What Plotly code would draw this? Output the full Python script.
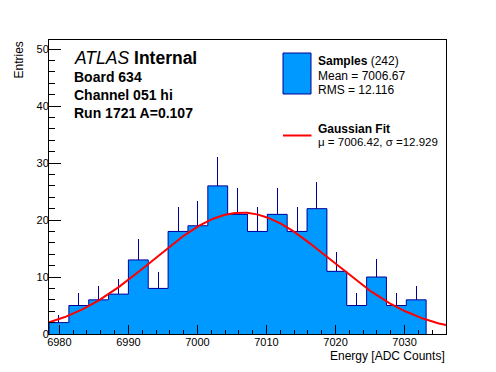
import numpy as np
import plotly.graph_objects as go

# ---- data ----
bin_start = 6978.5
bin_width = 2.875
counts = [2, 5, 6, 7, 13, 8, 18, 19, 26, 21, 18, 21, 18, 22, 11, 5, 10, 5, 6, 0]
x_range = [6978.5, 7036.0]
y_range = [0, 51.6]
fit_mu = 7006.42
fit_sigma = 12.929
fit_amp = 21.3
n_entries = 242
mean_txt = "7006.67"
rms_txt = "12.116"

edges = bin_start + bin_width * np.arange(len(counts) + 1)
centers = 0.5 * (edges[:-1] + edges[1:])
cnt = np.array(counts, dtype=float)
err_up = np.sqrt(cnt)

FILL = "#0099ff"
EDGE = "#000099"
FONT = "Liberation Sans, Arial, Helvetica, sans-serif"

# pixel geometry of the frame (page pixels)
L, R, T, B = 49, 446, 40, 334
W, H = R - L, B - T
OFF = 8  # default body margin of the page
def px(p):
    return (p - L) / W
def py(p):
    return (B - p) / H

fig = go.Figure()

fig.add_trace(go.Bar(
    x=centers, y=cnt, width=bin_width,
    marker=dict(color=FILL, line=dict(width=0)),
    error_y=dict(type="data", symmetric=False, array=err_up,
                 arrayminus=np.zeros_like(cnt), width=0, thickness=1, color=EDGE,
                 visible=True),
    showlegend=False, hoverinfo="skip",
))

# step outline
nz = [i for i, c in enumerate(counts) if c > 0]
last = nz[-1]
sx = [edges[0]] + list(edges[:last + 1]) + [edges[last + 1]]
sy = [0.0] + list(cnt[:last + 1]) + [0.0]
fig.add_trace(go.Scatter(x=sx, y=sy, mode="lines", line=dict(color=EDGE, width=1, shape="hv"),
                         showlegend=False, hoverinfo="skip"))

# gaussian fit curve
gx = np.linspace(x_range[0], x_range[1], 400)
gy = fit_amp * np.exp(-0.5 * ((gx - fit_mu) / fit_sigma) ** 2)
fig.add_trace(go.Scatter(x=gx, y=gy, mode="lines", line=dict(color="#ff0000", width=2),
                         showlegend=False, hoverinfo="skip"))

axis_common = dict(showline=True, linecolor="black", linewidth=1, mirror=True,
                   showgrid=False, zeroline=False, ticks="inside", tickcolor="black",
                   tickfont=dict(family=FONT, size=11, color="black"))

fig.update_xaxes(range=x_range, dtick=10, tick0=6980, ticklen=9, ticklabelstandoff=-2,
                 minor=dict(dtick=2, tick0=6980, ticks="inside", ticklen=4.5, tickcolor="black"),
                 **axis_common)
fig.update_yaxes(range=y_range, dtick=10, tick0=0, ticklen=12, ticklabelstandoff=-3,
                 minor=dict(dtick=2, ticks="inside", ticklen=6, tickcolor="black"),
                 **axis_common)

ann = []
def text(x, y, s, size, xanchor="left", yanchor="middle", angle=0):
    ann.append(dict(x=px(x), y=py(y), xref="paper", yref="paper", text=s, showarrow=False,
                    xanchor=xanchor, yanchor=yanchor, textangle=angle,
                    font=dict(family=FONT, size=size, color="black")))

text(72, 58, "<i>ATLAS</i> <b>Internal</b>", 17.5)
text(72, 77, "<b>Board 634</b>", 14)
text(72, 95, "<b>Channel 051 hi</b>", 14)
text(72, 113, "<b>Run 1721 A=0.107</b>", 14)

text(316, 61, "<b>Samples</b> (%d)" % n_entries, 12)
text(316, 76, "Mean = " + mean_txt, 12)
text(316, 90, "RMS = " + rms_txt, 12)
text(316, 129, "<b>Gaussian Fit</b>", 12)
text(316, 142, "\u03bc = %.2f, \u03c3 =%.3f" % (fit_mu, fit_sigma), 11.5)

text(447, 356, "Energy [ADC Counts]", 12, xanchor="right")
text(18, 40, "Entries", 12, xanchor="center", yanchor="top", angle=-90)

shapes = [
    dict(type="rect", xref="paper", yref="paper", x0=px(283), x1=px(311), y0=py(94), y1=py(53),
         fillcolor=FILL, line=dict(color=EDGE, width=1)),
    dict(type="line", xref="paper", yref="paper", x0=px(283), x1=px(311.5), y0=py(135.5), y1=py(135.5),
         line=dict(color="#ff0000", width=2)),
]

fig.update_layout(
    width=496, height=372,
    margin=dict(l=L - OFF, r=496 - R + OFF, t=T - OFF, b=372 - B + OFF),
    paper_bgcolor="white", plot_bgcolor="white",
    bargap=0, showlegend=False,
    annotations=ann, shapes=shapes,
    font=dict(family=FONT),
)

fig.write_html("out.html")
